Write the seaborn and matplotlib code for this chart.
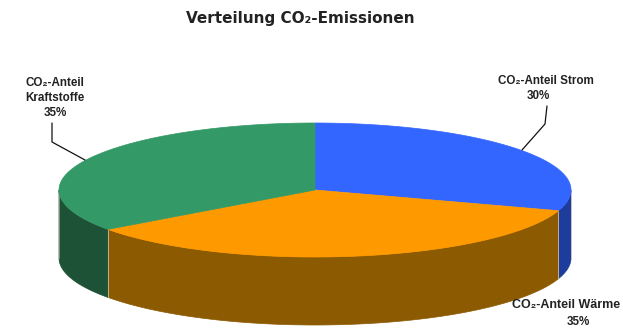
import numpy as np
import matplotlib
matplotlib.use("Agg")
import matplotlib.pyplot as plt
from matplotlib.patches import Polygon
import seaborn as sns

# ---- data ----
categories = ["CO₂-Anteil Strom", "CO₂-Anteil Wärme", "CO₂-Anteil\nKraftstoffe"]
values = [30, 35, 35]
pct_labels = ["30%", "35%", "35%"]
title = "Verteilung CO₂-Emissionen"

top_colors = ["#3366FF", "#FF9900", "#339966"]
side_colors = ["#1E3C9C", "#8C5A00", "#1D5236"]

sns.set_theme(style="white")
plt.rcParams["font.family"] = ["Liberation Sans", "DejaVu Sans"]

fig = plt.figure(figsize=(6.23, 3.28), dpi=100)
ax = fig.add_axes([0, 0, 1, 1])
ax.set_xlim(0, 623)
ax.set_ylim(328, 0)
ax.axis("off")

cx, cy, rx, ry, depth = 315, 190, 256, 67, 68


def arc(a0, a1, dz=0, n=120):
    t = np.radians(np.linspace(a0, a1, n))
    return np.column_stack([cx + rx * np.cos(t), cy - ry * np.sin(t) + dz])


total = float(sum(values))
start = 90.0
spans = []
for v in values:
    end = start - 360.0 * v / total
    spans.append((end, start))
    start = end

# side walls (front half only)
for (a_lo, a_hi), sc in zip(spans, side_colors):
    for off in (-360, 0, 360):
        lo = max(a_lo, -180 + off)
        hi = min(a_hi, 0 + off)
        if hi > lo:
            top = arc(lo, hi)
            bot = arc(hi, lo, dz=depth)
            ax.add_patch(Polygon(np.vstack([top, bot]), closed=True,
                                 facecolor=sc, edgecolor=sc, lw=0.5, zorder=1))
            for a in (lo, hi):
                p = arc(a, a, n=1)[0]
                ax.plot([p[0], p[0]], [p[1], p[1] + depth], color="#d8c9a8",
                        lw=0.6, alpha=0.6, zorder=2)

# top faces
for (a_lo, a_hi), tc in zip(spans, top_colors):
    pts = np.vstack([[cx, cy], arc(a_hi, a_lo)])
    ax.add_patch(Polygon(pts, closed=True, facecolor=tc, edgecolor=tc,
                         lw=0.5, zorder=3))

# title
ax.text(300, 18, title, ha="center", va="center", fontsize=11,
        fontweight="bold", color="#222222", family=["DejaVu Sans"])

fs = 8.4
tc_ = "#222222"
# Strom
ax.text(546, 81, categories[0], ha="center", va="center", fontsize=fs,
        fontweight="bold", color=tc_)
ax.text(538, 96, pct_labels[0], ha="center", va="center", fontsize=fs,
        fontweight="bold", color=tc_)
ax.plot([547, 545, 522], [106, 124, 150], color="#111111", lw=0.9, zorder=4)

# Wärme
ax.text(512, 305, categories[1], ha="left", va="center", fontsize=fs + 0.6,
        fontweight="bold", color=tc_)
ax.text(578, 322, pct_labels[1], ha="center", va="center", fontsize=fs,
        fontweight="bold", color=tc_)

# Kraftstoffe
k1, k2 = categories[2].split("\n")
ax.text(55, 83, k1, ha="center", va="center", fontsize=fs,
        fontweight="bold", color=tc_)
ax.text(55, 98, k2, ha="center", va="center", fontsize=fs,
        fontweight="bold", color=tc_)
ax.text(55, 113, pct_labels[2], ha="center", va="center", fontsize=fs,
        fontweight="bold", color=tc_)
ax.plot([52, 52, 85], [123, 142, 160], color="#111111", lw=0.9, zorder=4)

fig.savefig("out.png", dpi=100)
